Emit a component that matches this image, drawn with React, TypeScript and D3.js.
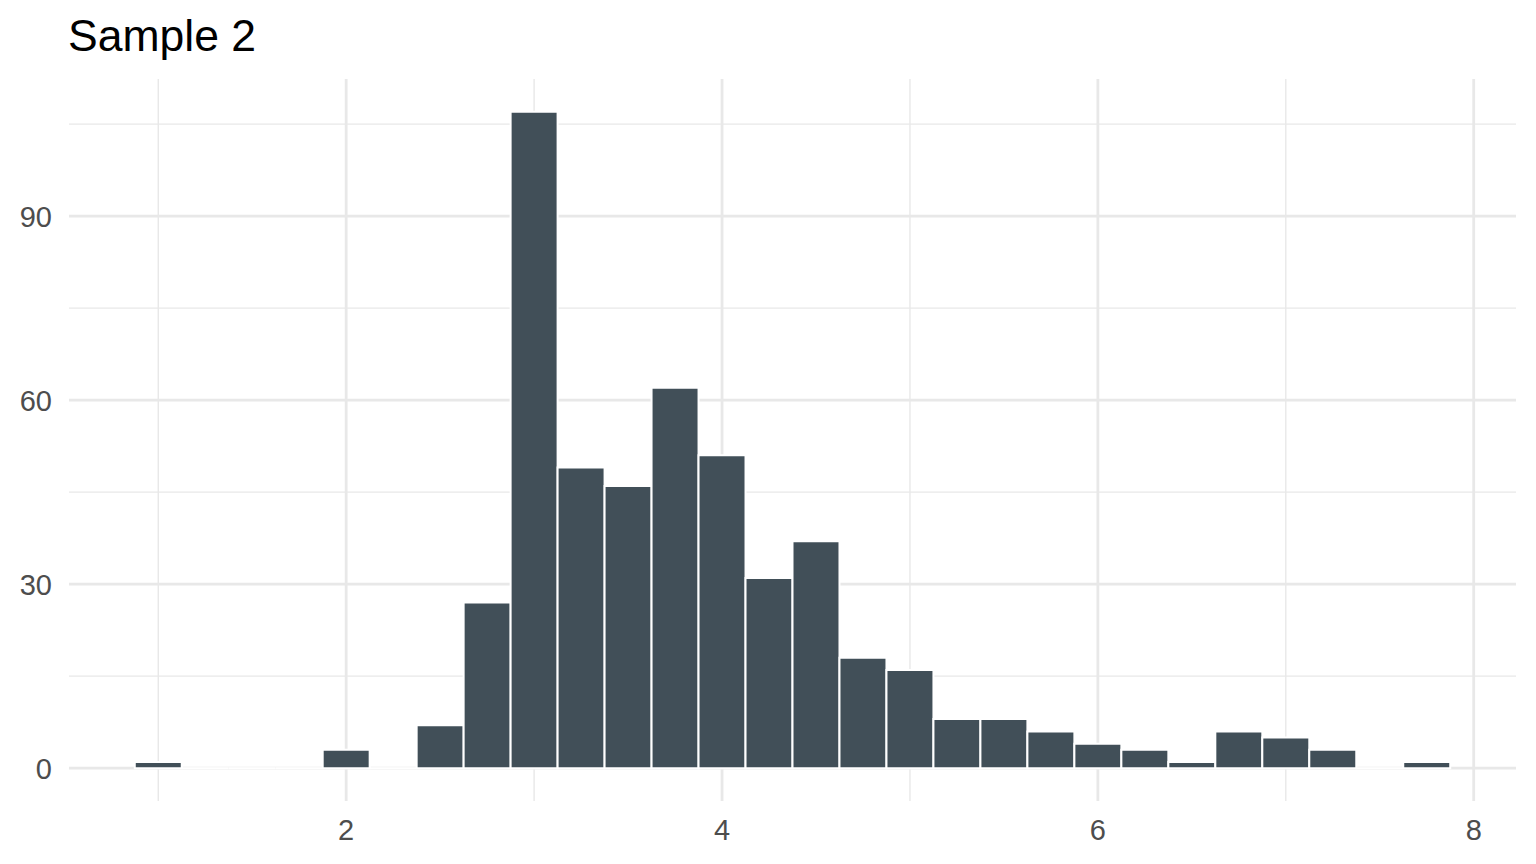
import { useEffect, useRef } from 'react'
import * as d3 from 'd3'

// histogram bin centres (binwidth 0.25) and counts
const binCenters = [
  1.0, 1.25, 1.5, 1.75, 2.0, 2.25, 2.5, 2.75, 3.0, 3.25, 3.5, 3.75, 4.0, 4.25,
  4.5, 4.75, 5.0, 5.25, 5.5, 5.75, 6.0, 6.25, 6.5, 6.75, 7.0, 7.25, 7.5, 7.75
]
const counts = [
  1, 0, 0, 0, 3, 0, 7, 27, 107, 49, 46, 62, 51, 31,
  37, 18, 16, 8, 8, 6, 4, 3, 1, 6, 5, 3, 0, 1
]
const binWidth = 0.25
const xMajor = [2, 4, 6, 8]
const xMinor = [1, 3, 5, 7]
const yMajor = [0, 30, 60, 90]
const yMinor = [15, 45, 75, 105]
const title = 'Sample 2'

const W = 1536
const H = 864
const FONT = '"Liberation Sans", Arial, Helvetica, sans-serif'

export default function App() {
  const svgRef = useRef<SVGSVGElement>(null)

  useEffect(() => {
    if (!svgRef.current) return
    const svg = d3.select(svgRef.current)
    svg.selectAll('*').remove()

    const margin = { top: 79, right: 20, bottom: 63, left: 69 }

    // ggplot-style 5% expansion
    const xLo = binCenters[0] - binWidth / 2
    const xHi = binCenters[binCenters.length - 1] + binWidth / 2
    const xPad = (xHi - xLo) * 0.05
    const yMax = d3.max(counts) as number
    const yPad = yMax * 0.05

    const x = d3.scaleLinear()
      .domain([xLo - xPad, xHi + xPad])
      .range([margin.left, W - margin.right])
    const y = d3.scaleLinear()
      .domain([-yPad, yMax + yPad])
      .range([H - margin.bottom, margin.top])

    const [px0, px1] = x.range()
    const [py1, py0] = y.range()

    // grid
    const grid = svg.append('g')
    grid.selectAll('line.ymin').data(yMinor).join('line')
      .attr('x1', px0).attr('x2', px1)
      .attr('y1', d => y(d)).attr('y2', d => y(d))
      .attr('stroke', '#E8E8E8').attr('stroke-width', 1.4)
    grid.selectAll('line.xmin').data(xMinor).join('line')
      .attr('y1', py0).attr('y2', py1)
      .attr('x1', d => x(d)).attr('x2', d => x(d))
      .attr('stroke', '#E8E8E8').attr('stroke-width', 1.4)
    grid.selectAll('line.ymaj').data(yMajor).join('line')
      .attr('x1', px0).attr('x2', px1)
      .attr('y1', d => y(d)).attr('y2', d => y(d))
      .attr('stroke', '#E8E8E8').attr('stroke-width', 2.8)
    grid.selectAll('line.xmaj').data(xMajor).join('line')
      .attr('y1', py0).attr('y2', py1)
      .attr('x1', d => x(d)).attr('x2', d => x(d))
      .attr('stroke', '#E8E8E8').attr('stroke-width', 2.8)

    // bars as paths so zero-height bins still get their white outline
    svg.append('g').selectAll('path').data(binCenters).join('path')
      .attr('d', (c, i) => {
        const x0 = x(c - binWidth / 2)
        const x1 = x(c + binWidth / 2)
        const yb = y(0)
        const yt = y(counts[i])
        return `M${x0},${yb}L${x0},${yt}L${x1},${yt}L${x1},${yb}Z`
      })
      .attr('fill', '#414F58')
      .attr('stroke', '#FFFFFF')
      .attr('stroke-width', 2)

    // axis labels
    svg.append('g').selectAll('text').data(yMajor).join('text')
      .attr('x', 52)
      .attr('y', d => y(d) + 10.4)
      .attr('text-anchor', 'end')
      .attr('font-family', FONT)
      .attr('font-size', 29)
      .attr('fill', '#4D4D4D')
      .text(d => d3.format('d')(d))

    svg.append('g').selectAll('text').data(xMajor).join('text')
      .attr('x', d => x(d))
      .attr('y', 840)
      .attr('text-anchor', 'middle')
      .attr('font-family', FONT)
      .attr('font-size', 29)
      .attr('fill', '#4D4D4D')
      .text(d => d3.format('d')(d))

    // title
    svg.append('text')
      .attr('x', 68)
      .attr('y', 51)
      .attr('font-family', FONT)
      .attr('font-size', 44.5)
      .attr('fill', '#000000')
      .text(title)
  }, [])

  return (
    <svg
      ref={svgRef}
      width={W}
      height={H}
      style={{ position: 'absolute', left: 0, top: 0, background: '#FFFFFF', display: 'block' }}
    />
  )
}
